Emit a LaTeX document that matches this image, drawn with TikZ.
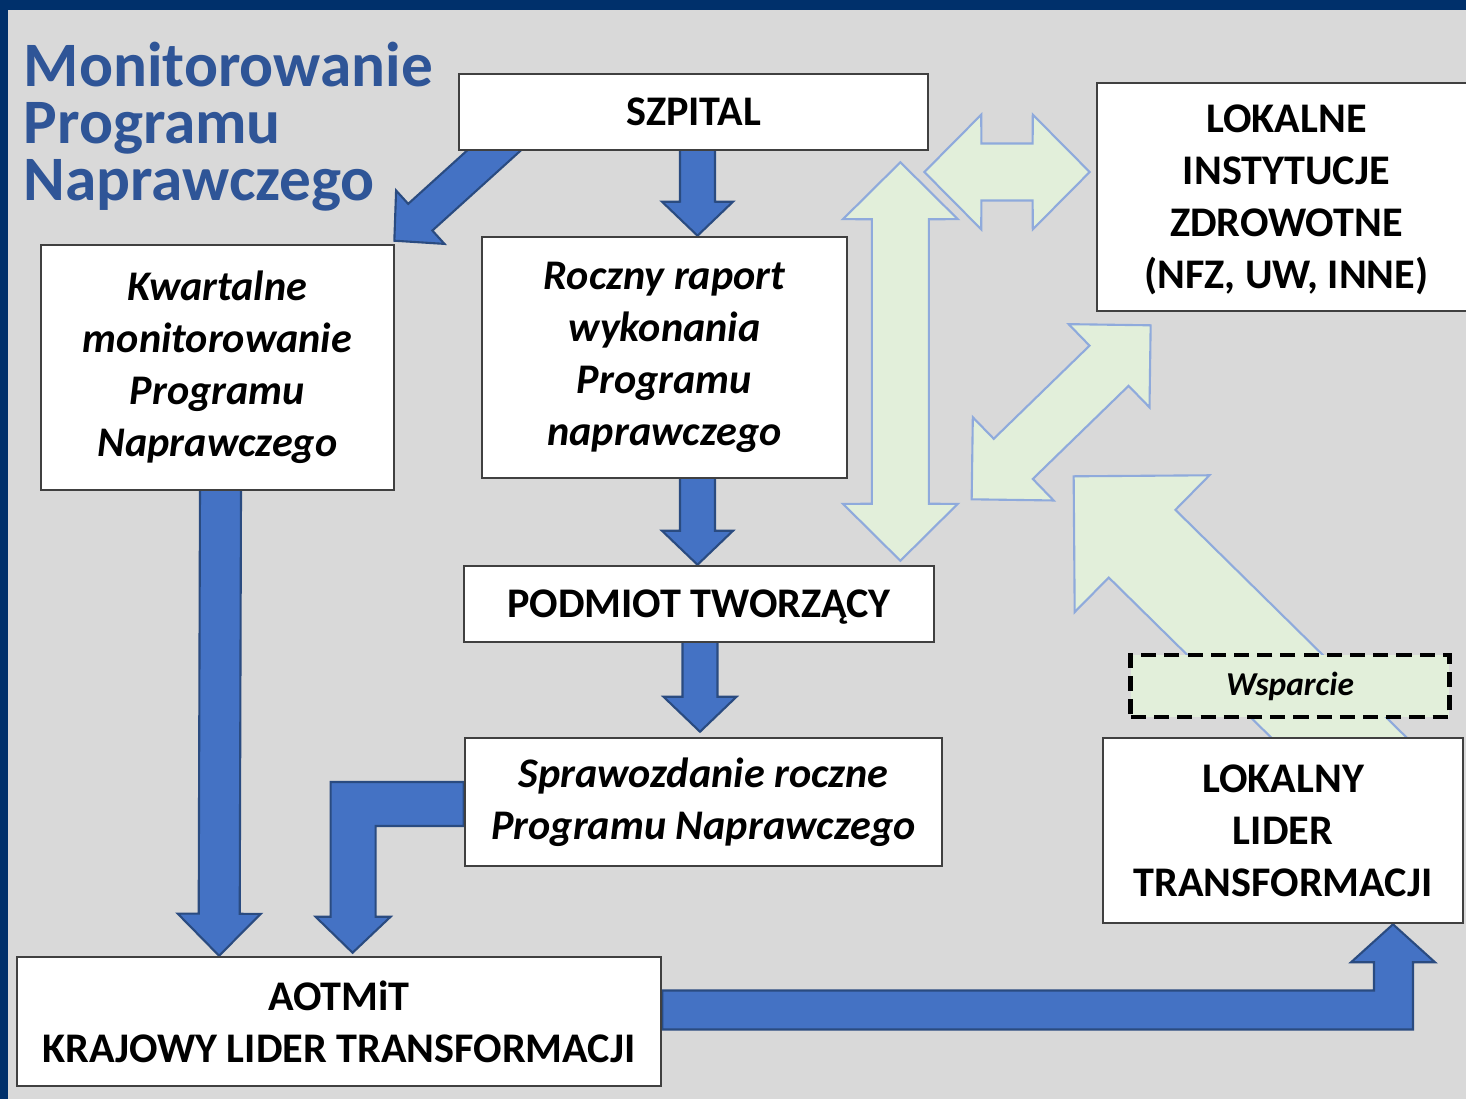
\documentclass[tikz,border=0pt]{standalone}
\usepackage{fontspec}
\setmainfont{Carlito}
\usetikzlibrary{calc, positioning}
\definecolor{pageGray}{HTML}{D9D9D9}
\definecolor{frameNavy}{HTML}{00306B}
\definecolor{titleBlue}{HTML}{2F5597}
\definecolor{arrowBlue}{HTML}{4472C4}
\definecolor{arrowEdge}{HTML}{2A4B80}
\definecolor{supportGreen}{HTML}{E2EFDA}
\definecolor{supportEdge}{HTML}{8FAADC}
\pgfdeclarelayer{bg}
\pgfdeclarelayer{arr}
\pgfsetlayers{bg,arr,main}
\newcommand{\blockArrow}[6]{%
  \pgfmathsetmacro{\baSw}{#2/100}%
  \pgfmathsetmacro{\baDs}{veclen(#4,#2)/100}%
  \pgfmathsetmacro{\baAs}{atan2(#2,#4)}%
  \pgfmathsetmacro{\baDb}{veclen(#4,#3)/100}%
  \pgfmathsetmacro{\baAb}{atan2(#3,#4)}%
  \draw[#1] ($(#5)!\baSw cm!90:(#6)$) -- ($(#6)!\baDs cm!-\baAs:(#5)$) -- ($(#6)!\baDb cm!-\baAb:(#5)$) -- (#6)
    -- ($(#6)!\baDb cm!\baAb:(#5)$) -- ($(#6)!\baDs cm!\baAs:(#5)$) -- ($(#5)!\baSw cm!-90:(#6)$) -- cycle;}
\newcommand{\dblArrow}[6]{%
  \pgfmathsetmacro{\baDs}{veclen(#4,#2)/100}%
  \pgfmathsetmacro{\baAs}{atan2(#2,#4)}%
  \pgfmathsetmacro{\baDb}{veclen(#4,#3)/100}%
  \pgfmathsetmacro{\baAb}{atan2(#3,#4)}%
  \draw[#1] (#5) -- ($(#5)!\baDb cm!\baAb:(#6)$) -- ($(#5)!\baDs cm!\baAs:(#6)$) -- ($(#6)!\baDs cm!-\baAs:(#5)$)
    -- ($(#6)!\baDb cm!-\baAb:(#5)$) -- (#6) -- ($(#6)!\baDb cm!\baAb:(#5)$) -- ($(#6)!\baDs cm!\baAs:(#5)$)
    -- ($(#5)!\baDs cm!-\baAs:(#6)$) -- ($(#5)!\baDb cm!-\baAb:(#6)$) -- cycle;}
\begin{document}
\begin{tikzpicture}[x=0.01cm, y=-0.01cm,
    box/.style={draw=black!75, line width=0.7pt, fill=white, inner sep=0pt, align=center,
      font=\fontsize{12}{14.8}\selectfont\bfseries},
    itbox/.style={box, font=\fontsize{12}{14.8}\selectfont\bfseries\itshape},
    blueArrow/.style={fill=arrowBlue, draw=arrowEdge, line width=0.6pt, line join=miter},
    greenArrow/.style={fill=supportGreen, draw=supportEdge, line width=0.6pt, line join=miter}]
  \useasboundingbox (0,0) rectangle (1466,1099);
  \begin{pgfonlayer}{bg}
    \fill[pageGray] (0,0) rectangle (1466,1099);
    \fill[frameNavy] (0,0) rectangle (1466,10);
    \fill[frameNavy] (0,0) rectangle (8,1099);
  \end{pgfonlayer}

  \node[anchor=north west, inner sep=0pt, align=left, text=titleBlue,
    font=\fontsize{18}{16.3}\selectfont\bfseries] (title) at (23,41) {Monitorowanie\\Programu\\Naprawczego};

  \node[box, minimum width=4.69cm, minimum height=0.76cm] (szpital) at (693.5,112) {SZPITAL};
  \node[box, text depth=0pt, minimum width=3.79cm, minimum height=2.28cm] (lokalne) at (1286.5,197)
    {LOKALNE\\INSTYTUCJE\\ZDROWOTNE\\(NFZ, UW, INNE)};
  \node[itbox, minimum width=3.53cm, minimum height=2.45cm] (kwartal) at (217.5,367.5)
    {Kwartalne\\monitorowanie\\Programu\\Naprawczego};
  \node[itbox, minimum width=3.65cm, minimum height=2.41cm] (roczny) at (664.5,357.5)
    {Roczny raport\\wykonania\\Programu\\naprawczego};
  \node[box, text depth=0pt, minimum width=4.70cm, minimum height=0.76cm] (podmiot) at (699,604) {PODMIOT TWORZĄCY};
  \node[itbox, minimum width=4.77cm, minimum height=1.28cm] (spraw) at (703.5,802)
    {Sprawozdanie roczne\\Programu Naprawczego};
  \node[box, minimum width=6.44cm, minimum height=1.29cm] (aotmit) at (339,1021.5)
    {AOTMiT\\KRAJOWY LIDER TRANSFORMACJI};
  \node[box, minimum width=3.60cm, minimum height=1.85cm] (lider) at (1283,830.5)
    {LOKALNY\\LIDER\\TRANSFORMACJI};
  \node[draw=black, line width=1.4pt, dash pattern=on 4.3pt off 2.3pt, fill=supportGreen,
    minimum width=3.18cm, minimum height=0.62cm, inner sep=0pt,
    font=\fontsize{9.5}{11}\selectfont\bfseries\itshape] (wsparcie) at (1290,686) {Wsparcie};

  \coordinate (b1s) at ($(szpital.south west)+(52,-15)$);
  \coordinate (b1t) at ($(kwartal.north east)+(-1,-3)$);
  \coordinate (b2s) at ($(szpital.south)+(4,-2)$);
  \coordinate (b2t) at ($(roczny.north)+(33,0)$);
  \coordinate (b3s) at ($(roczny.south)+(33,-2)$);
  \coordinate (b3t) at ($(podmiot.north)+(-1.5,0)$);
  \coordinate (b4s) at ($(podmiot.south)+(1,-2)$);
  \coordinate (b4t) at ($(spraw.north)+(-3.5,-5)$);
  \coordinate (b5s) at ($(kwartal.south)+(3,-2)$);
  \coordinate (b5t) at ($(aotmit.north west)+(203.5,0)$);
  \coordinate (gvTop) at ($(szpital.south east)+(-29,11)$);
  \coordinate (gvBot) at ($(podmiot.north east)+(-35,-4)$);
  \coordinate (ghL) at ($(szpital.east)+(-5,60)$);
  \coordinate (ghR) at ($(lokalne.west)+(-6,-25)$);
  \coordinate (gdTop) at ($(lokalne.south west)+(55,13)$);
  \coordinate (gdBot) at ($(lokalne.south west)+(-124,187)$);
  \coordinate (gsStart) at ($(lider.north west)+(277,40)$);
  \coordinate (gsTip) at ($(lokalne.south west)+(-22,164)$);

  \begin{pgfonlayer}{arr}
    \blockArrow{blueArrow}{18}{36}{35}{b1s}{b1t}
    \blockArrow{blueArrow}{17.5}{35.5}{34}{b2s}{b2t}
    \blockArrow{blueArrow}{17.5}{35.5}{34}{b3s}{b3t}
    \blockArrow{blueArrow}{17.5}{36.5}{35}{b4s}{b4t}
    \blockArrow{blueArrow}{20.5}{41.5}{42}{b5s}{b5t}
    \draw[blueArrow] ($(spraw.west)+(0,-20)$) -| ($(aotmit.north west)+(315,-39)$) -- ++(-15,0)
      -- ($(aotmit.north west)+(337,-3)$) -- ++(38,-36) -- ++(-15,0) |- ($(spraw.west)+(0,24)$) -- cycle;
    \draw[blueArrow] ($(aotmit.east)+(0,-31)$) -| ($(lider.south)+(91,38)$) -- ++(-23,0)
      -- ($(lider.south)+(110,0)$) -- ++(42,38) -- ++(-22,0) |- ($(aotmit.east)+(0,8)$) -- cycle;
    \dblArrow{greenArrow}{28.5}{57.5}{57}{gvTop}{gvBot}
    \dblArrow{greenArrow}{28.5}{57.5}{57}{ghL}{ghR}
    \dblArrow{greenArrow}{28}{58}{58}{gdTop}{gdBot}
    \blockArrow{greenArrow}{47.5}{96}{96}{gsStart}{gsTip}
  \end{pgfonlayer}
\end{tikzpicture}
\end{document}
